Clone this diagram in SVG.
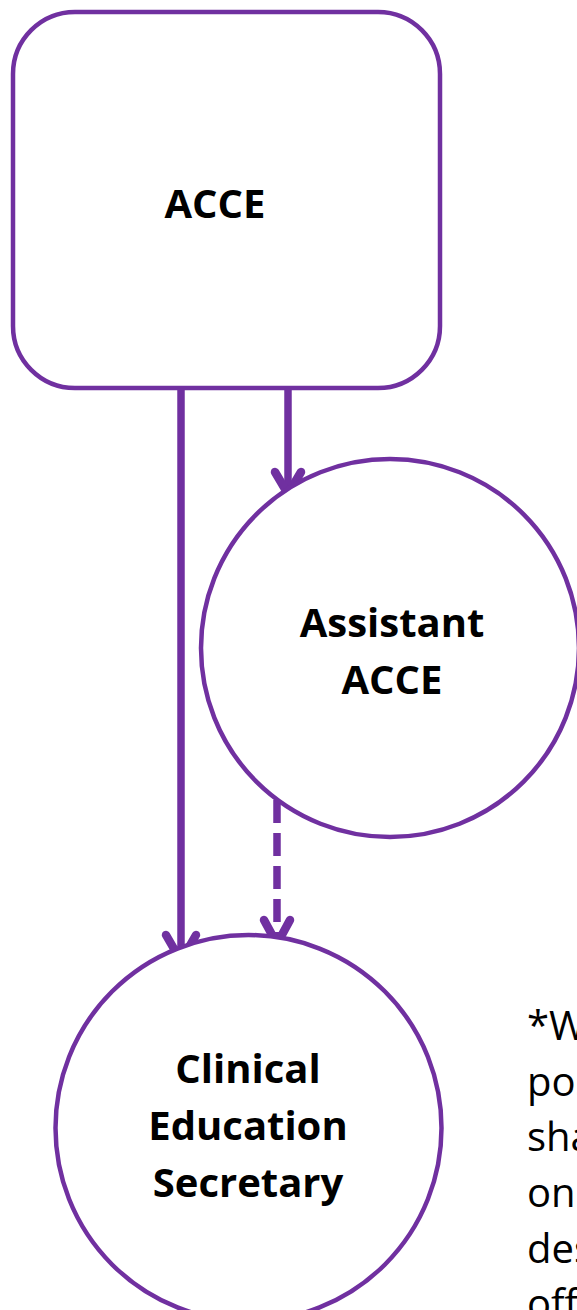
<svg xmlns="http://www.w3.org/2000/svg" width="577" height="1310" viewBox="0 0 577 1310">
<style>
.node{fill:#FFFFFF;stroke:#7030A0;stroke-width:4.5}
.lbl{font-family:"Open Sans","Liberation Sans",sans-serif;font-weight:bold;font-size:40px;fill:#000000;text-anchor:middle}
.note{font-family:"Open Sans","Liberation Sans",sans-serif;font-size:40px;fill:#000000}
.conn{fill:none;stroke:#7030A0;stroke-width:7.5}
.head{fill:none;stroke:#7030A0;stroke-width:8.5;stroke-linecap:round;stroke-linejoin:round}
</style>
<rect width="577" height="1310" fill="#FFFFFF"/>
<g id="connectors">
<line class="conn" x1="181" y1="388" x2="181" y2="958"/>
<polyline class="head" points="166,935 181,961 196,935"/>
<line class="conn" x1="288" y1="388" x2="288" y2="492"/>
<polyline class="head" points="275,472 288,494 301,472"/>
<line class="conn" x1="277" y1="800" x2="277" y2="942" stroke-dasharray="23,10"/>
<polyline class="head" points="264,920 277,944 290,920"/>
</g>
<g id="acce">
<rect class="node" x="13" y="12" width="427" height="376" rx="62" ry="62"/>
<text class="lbl" x="215" y="218">ACCE</text>
</g>
<g id="assistant-acce">
<circle class="node" cx="390" cy="648" r="189"/>
<text class="lbl" x="392" y="637">Assistant</text>
<text class="lbl" x="392" y="694">ACCE</text>
</g>
<g id="clinical-education-secretary">
<circle class="node" cx="248.5" cy="1128" r="193"/>
<text class="lbl" x="248" y="1083">Clinical</text>
<text class="lbl" x="248" y="1140">Education</text>
<text class="lbl" x="248" y="1197">Secretary</text>
</g>
<g id="note">
<text class="note" x="527" y="1040">*W</text>
<text class="note" x="527" y="1096">pos</text>
<text class="note" x="527" y="1151">sha</text>
<text class="note" x="527" y="1207">one</text>
<text class="note" x="527" y="1263">des</text>
<text class="note" x="527" y="1318">off</text>
</g>
</svg>
